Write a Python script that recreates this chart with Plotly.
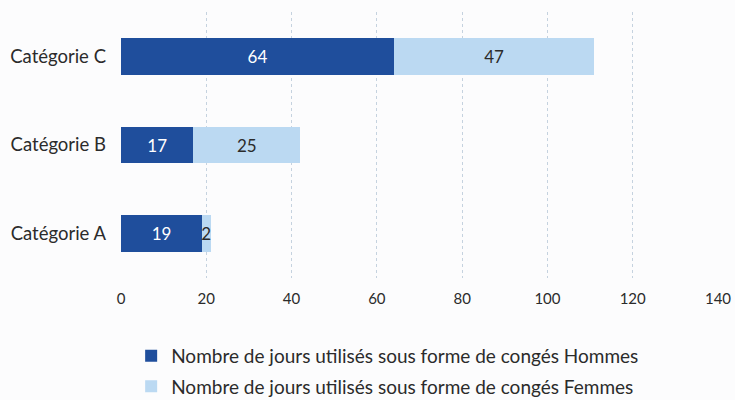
import plotly.graph_objects as go

# ─── Data ─────────────────────────────────────────────────────────────────────

categories = ["Catégorie A", "Catégorie B", "Catégorie C"]
hommes     = [19, 17, 64]
femmes     = [2, 25, 47]
x_ticks    = [0, 20, 40, 60, 80, 100, 120, 140]

name_hommes = "Nombre de jours utilisés sous forme de congés Hommes"
name_femmes = "Nombre de jours utilisés sous forme de congés Femmes"

DARK  = "#1F4E9C"
LIGHT = "#BBD9F2"
TEXT  = "#2B2B2B"
BG    = "#FCFCFD"
FONT  = "Lato, Open Sans, sans-serif"

# ─── Figure ───────────────────────────────────────────────────────────────────

fig = go.Figure()

fig.add_trace(go.Bar(
    y=categories, x=hommes, orientation="h",
    name=name_hommes, marker=dict(color=DARK, line=dict(width=0)),
    text=hommes, textposition="inside", insidetextanchor="middle",
    textfont=dict(color="white", size=17, family=FONT),
    legendgroup="h",
))
fig.add_trace(go.Bar(
    y=categories, x=femmes, orientation="h",
    name=name_femmes, marker=dict(color=LIGHT, line=dict(width=0)),
    text=femmes, textposition="inside", insidetextanchor="middle",
    textfont=dict(color=TEXT, size=17, family=FONT),
    legendgroup="f",
))

fig.update_layout(
    width=735, height=400,
    barmode="stack", bargap=0.59,
    paper_bgcolor=BG, plot_bgcolor=BG,
    font=dict(family=FONT, color=TEXT, size=14),
    margin=dict(l=121, r=17, t=12, b=122),
    uniformtext=dict(minsize=17, mode="show"),
    legend=dict(
        orientation="v", traceorder="grouped", tracegroupgap=3,
        x=0.017, xanchor="left",
        yref="container", y=0.158, yanchor="top",
        font=dict(size=19, color=TEXT, family=FONT),
        bgcolor="rgba(0,0,0,0)",
    ),
    xaxis=dict(
        range=[0, 140], tickvals=x_ticks, automargin=False,
        showgrid=True, gridcolor="#C5D2DF", griddash="dot", gridwidth=1,
        zeroline=False, showline=False,
        tickfont=dict(size=15, color=TEXT),
        ticklabelstandoff=10,
    ),
    yaxis=dict(
        automargin=False,
        showgrid=False, zeroline=False, showline=False,
        tickfont=dict(size=18.5, color=TEXT),
        ticklabelstandoff=14,
    ),
)

# drop the default 8px body margin so the figure fills the 735x400 window
fig.write_html(
    "out.html",
    config={"displayModeBar": False},
    post_script="document.body.style.margin = '0';",
)
